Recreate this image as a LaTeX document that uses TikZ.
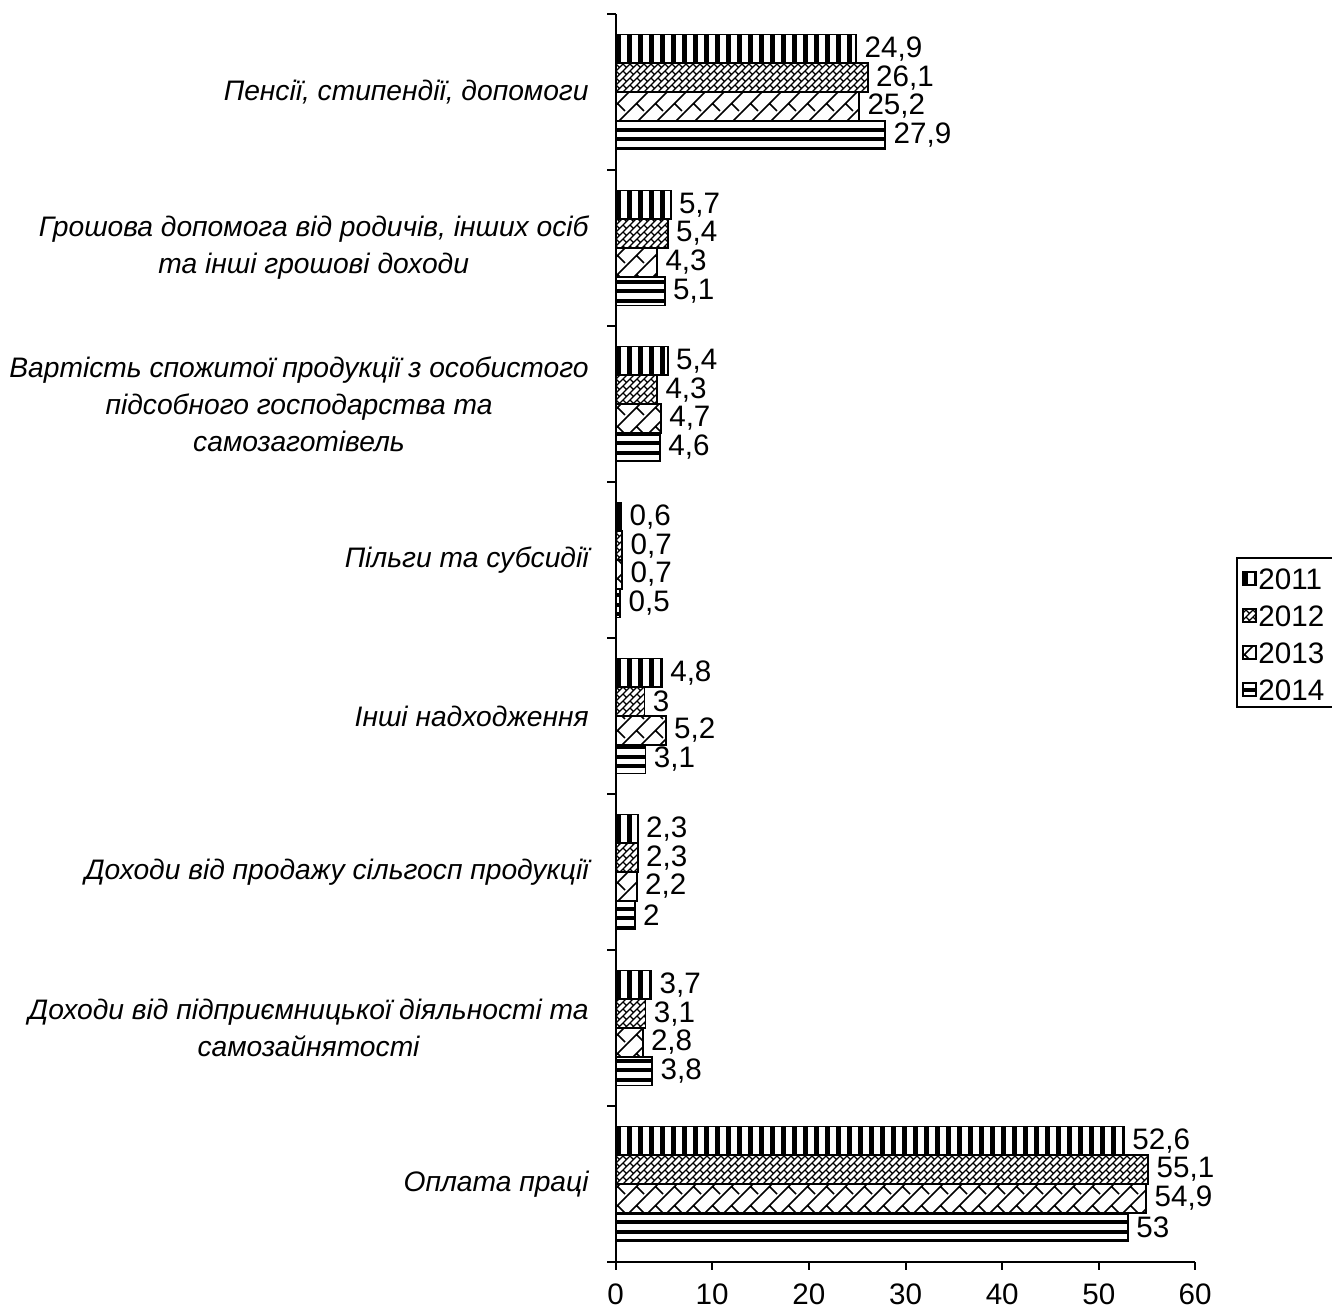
\documentclass[tikz,border=0pt]{standalone}
\usepackage{fontspec}
\setmainfont{Liberation Sans}
\usetikzlibrary{patterns}

% fill patterns of the four years
\pgfdeclarepatternformonly{vbars}{\pgfqpoint{0pt}{-0.5pt}}{\pgfqpoint{5.5pt}{6pt}}{\pgfqpoint{5.5pt}{5.5pt}}{%
  \pgfpathrectangle{\pgfqpoint{0pt}{-0.3pt}}{\pgfqpoint{2.6pt}{6.1pt}}\pgfusepath{fill}}
\pgfdeclarepatternformonly{hbars}{\pgfqpoint{-0.5pt}{0pt}}{\pgfqpoint{5.25pt}{4.75pt}}{\pgfqpoint{4.75pt}{4.75pt}}{%
  \pgfpathrectangle{\pgfqpoint{-0.3pt}{0pt}}{\pgfqpoint{5.35pt}{2.1pt}}\pgfusepath{fill}}
\pgfdeclarepatternformonly{weave}{\pgfqpoint{-0.5pt}{-0.5pt}}{\pgfqpoint{4pt}{4pt}}{\pgfqpoint{3.5pt}{3.5pt}}{%
  \pgfsetlinewidth{0.6pt}
  \pgfpathmoveto{\pgfqpoint{0pt}{0pt}}\pgfpathlineto{\pgfqpoint{3.5pt}{3.5pt}}
  \pgfpathmoveto{\pgfqpoint{0pt}{3.5pt}}\pgfpathlineto{\pgfqpoint{1.75pt}{1.75pt}}
  \pgfusepath{stroke}}
\pgfdeclarepatternformonly{shingle}{\pgfqpoint{-0.5pt}{-0.5pt}}{\pgfqpoint{10pt}{10pt}}{\pgfqpoint{9.5pt}{9.5pt}}{%
  \pgfsetlinewidth{0.8pt}
  \pgfpathmoveto{\pgfqpoint{0pt}{0pt}}\pgfpathlineto{\pgfqpoint{9.5pt}{9.5pt}}
  \pgfpathmoveto{\pgfqpoint{4.75pt}{4.75pt}}\pgfpathlineto{\pgfqpoint{8.5pt}{1pt}}
  \pgfusepath{stroke}}

\tikzset{
  bar11/.style={draw=black, line width=0.9pt, pattern=vbars},
  bar12/.style={draw=black, line width=0.9pt, pattern=weave},
  bar13/.style={draw=black, line width=0.9pt, pattern=shingle},
  bar14/.style={draw=black, line width=0.9pt, pattern=hbars},
  axis/.style={line width=1pt},
  val/.style={anchor=west, inner sep=0pt, font=\fontsize{14.8}{18.5}\selectfont},
  cat/.style={anchor=east, inner sep=0pt, align=center, font=\fontsize{14.1}{18.5}\selectfont\itshape},
}

\begin{document}
\begin{tikzpicture}[x=0.5pt,y=0.5pt,yscale=-1,xscale=1]
\useasboundingbox (0,0) rectangle (1332,1310);

% Pensions
\draw [bar11] (615.5,34.5) rectangle (856.2,63.25);
\draw [bar12] (615.5,63.25) rectangle (867.8,92);
\draw [bar13] (615.5,92) rectangle (859.1,120.75);
\draw [bar14] (615.5,120.75) rectangle (885.2,149.5);
\node [val] (v11) at (864.2,48.9) {24,9};
\node [val] (v12) at (875.8,77.6) {26,1};
\node [val] (v13) at (867.1,106.4) {25,2};
\node [val] (v14) at (893.2,135.1) {27,9};

% Money help
\draw [bar11] (615.5,190.5) rectangle (670.6,219.25);
\draw [bar12] (615.5,219.25) rectangle (667.7,248);
\draw [bar13] (615.5,248) rectangle (657.1,276.75);
\draw [bar14] (615.5,276.75) rectangle (664.8,305.5);
\node [val] (v21) at (678.6,204.9) {5,7};
\node [val] (v22) at (675.7,233.6) {5,4};
\node [val] (v23) at (665.1,262.4) {4,3};
\node [val] (v24) at (672.8,291.1) {5,1};

% Own produce
\draw [bar11] (615.5,346.5) rectangle (667.7,375.25);
\draw [bar12] (615.5,375.25) rectangle (657.1,404);
\draw [bar13] (615.5,404) rectangle (660.9,432.75);
\draw [bar14] (615.5,432.75) rectangle (660,461.5);
\node [val] (v31) at (675.7,360.9) {5,4};
\node [val] (v32) at (665.1,389.6) {4,3};
\node [val] (v33) at (668.9,418.4) {4,7};
\node [val] (v34) at (668,447.1) {4,6};

% Benefits
\draw [bar11] (615.5,502.5) rectangle (621.3,531.25);
\draw [bar12] (615.5,531.25) rectangle (622.3,560);
\draw [bar13] (615.5,560) rectangle (622.3,588.75);
\draw [bar14] (615.5,588.75) rectangle (620.3,617.5);
\node [val] (v41) at (629.3,516.9) {0,6};
\node [val] (v42) at (630.3,545.6) {0,7};
\node [val] (v43) at (630.3,574.4) {0,7};
\node [val] (v44) at (628.3,603.1) {0,5};

% Other receipts
\draw [bar11] (615.5,658.5) rectangle (661.9,687.25);
\draw [bar12] (615.5,687.25) rectangle (644.5,716);
\draw [bar13] (615.5,716) rectangle (665.8,744.75);
\draw [bar14] (615.5,744.75) rectangle (645.5,773.5);
\node [val] (v51) at (669.9,672.9) {4,8};
\node [val] (v52) at (652.5,701.6) {3};
\node [val] (v53) at (673.8,730.4) {5,2};
\node [val] (v54) at (653.5,759.1) {3,1};

% Farm sales
\draw [bar11] (615.5,814.5) rectangle (637.7,843.25);
\draw [bar12] (615.5,843.25) rectangle (637.7,872);
\draw [bar13] (615.5,872) rectangle (636.8,900.75);
\draw [bar14] (615.5,900.75) rectangle (634.8,929.5);
\node [val] (v61) at (645.7,828.9) {2,3};
\node [val] (v62) at (645.7,857.6) {2,3};
\node [val] (v63) at (644.8,886.4) {2,2};
\node [val] (v64) at (642.8,915.1) {2};

% Business
\draw [bar11] (615.5,970.5) rectangle (651.3,999.25);
\draw [bar12] (615.5,999.25) rectangle (645.5,1028);
\draw [bar13] (615.5,1028) rectangle (642.6,1056.75);
\draw [bar14] (615.5,1056.75) rectangle (652.2,1085.5);
\node [val] (v71) at (659.3,984.9) {3,7};
\node [val] (v72) at (653.5,1013.6) {3,1};
\node [val] (v73) at (650.6,1042.4) {2,8};
\node [val] (v74) at (660.2,1071.1) {3,8};

% Wages
\draw [bar11] (615.5,1126.5) rectangle (1124,1155.25);
\draw [bar12] (615.5,1155.25) rectangle (1148.2,1184);
\draw [bar13] (615.5,1184) rectangle (1146.2,1212.75);
\draw [bar14] (615.5,1212.75) rectangle (1127.9,1241.5);
\node [val] (v81) at (1132,1140.9) {52,6};
\node [val] (v82) at (1156.2,1169.6) {55,1};
\node [val] (v83) at (1154.2,1198.4) {54,9};
\node [val] (v84) at (1135.9,1227.1) {53};

% axes
\draw [axis] (615.5,14) -- (615.5,1262) -- (1195,1262);
\draw [axis] (607,14) -- (615.5,14) (607,170) -- (615.5,170) (607,326) -- (615.5,326) (607,482) -- (615.5,482) (607,638) -- (615.5,638) (607,794) -- (615.5,794) (607,950) -- (615.5,950) (607,1106) -- (615.5,1106) (607,1262) -- (615.5,1262);
\draw [axis] (615.5,1262) -- (615.5,1270) (712.2,1262) -- (712.2,1270) (808.8,1262) -- (808.8,1270) (905.5,1262) -- (905.5,1270) (1002.2,1262) -- (1002.2,1270) (1098.8,1262) -- (1098.8,1270) (1195,1262) -- (1195,1270);

\node [val, anchor=center] (t0) at (615.5,1294) {0};
\node [val, anchor=center] (t10) at (712.2,1294) {10};
\node [val, anchor=center] (t20) at (808.8,1294) {20};
\node [val, anchor=center] (t30) at (905.5,1294) {30};
\node [val, anchor=center] (t40) at (1002.2,1294) {40};
\node [val, anchor=center] (t50) at (1098.8,1294) {50};
\node [val, anchor=center] (t60) at (1195,1294) {60};

% category names
\node [cat] (c1) at (589,92) {Пенсії, стипендії, допомоги};
\node [cat] (c2) at (589,248) {Грошова допомога від родичів, інших осіб\\та інші грошові доходи};
\node [cat] (c3) at (589,404) {Вартість спожитої продукції з особистого\\підсобного господарства та\\самозаготівель};
\node [cat] (c4) at (589,560) {Пільги та субсидії};
\node [cat] (c5) at (589,716) {Інші надходження};
\node [cat] (c6) at (589,872) {Доходи від продажу сільгосп продукції};
\node [cat] (c7) at (589,1028) {Доходи від підприємницької діяльності та\\самозайнятості};
\node [cat] (c8) at (589,1184) {Оплата праці};

% legend
\draw [line width=0.9pt] (1237,558) rectangle (1345,707);
\draw [bar11] (1243,572) rectangle (1256,585);
\draw [bar12] (1243,609) rectangle (1256,622);
\draw [bar13] (1243,646) rectangle (1256,659);
\draw [bar14] (1243,683) rectangle (1256,696);
\node [val] (y2011) at (1258,579) {2011};
\node [val] (y2012) at (1258,616) {2012};
\node [val] (y2013) at (1258,653) {2013};
\node [val] (y2014) at (1258,690) {2014};

\end{tikzpicture}
\end{document}
